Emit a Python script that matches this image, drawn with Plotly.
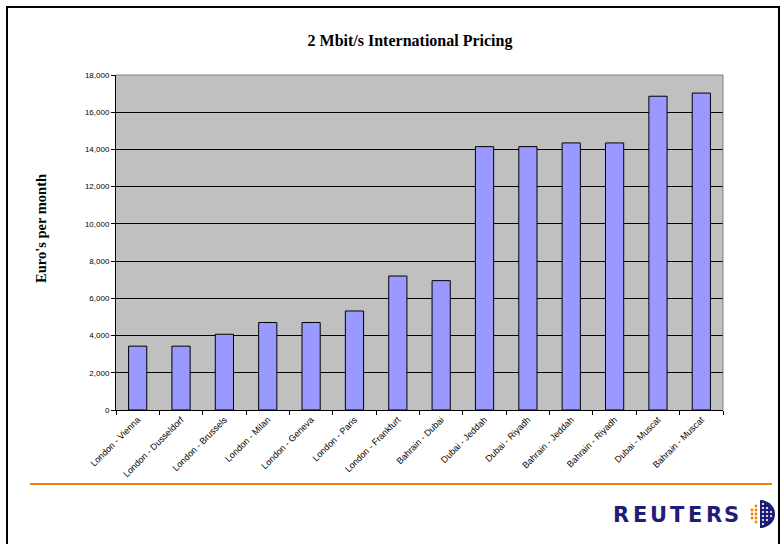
import math
import plotly.graph_objects as go

categories = ["London - Vienna", "London - Dusseldorf", "London - Brussels", "London - Milan",
              "London - Geneva", "London - Paris", "London - Frankfurt", "Bahrain - Dubai",
              "Dubai - Jeddah", "Dubai - Riyadh", "Bahrain - Jeddah", "Bahrain - Riyadh",
              "Dubai - Muscat", "Bahrain - Muscat"]
values = [3430, 3430, 4070, 4700, 4700, 5320, 7200, 6950,
          14150, 14150, 14350, 14350, 16860, 17030]
y_ticks = [0, 2000, 4000, 6000, 8000, 10000, 12000, 14000, 16000, 18000]

W, H = 781, 544
L, R, T, B = 116, 723, 75, 410
pw, ph = R - L, B - T

def px(x):
    return (x - L) / pw

def py(y):
    return (B - y) / ph

fig = go.Figure()
fig.add_trace(go.Bar(
    x=categories, y=values,
    marker=dict(color="#9999FF", line=dict(color="black", width=1)),
    showlegend=False,
))

fig.update_layout(
    width=W, height=H,
    margin=dict(l=L, r=W - R, t=T, b=H - B),
    paper_bgcolor="white",
    plot_bgcolor="#C0C0C0",
    bargap=0.58,
    font=dict(family="Liberation Sans, Arial", size=8, color="black"),
    title=dict(text="<b>2 Mbit/s International Pricing</b>",
               x=px(410), xanchor="center", xref="paper",
               y=1 - 40 / H, yanchor="middle",
               font=dict(family="Liberation Serif, Times New Roman", size=16, color="black")),
    xaxis=dict(tickangle=-45, tickfont=dict(size=9), ticks="outside", ticklen=4,
               tickson="boundaries", tickcolor="black", showline=True, linecolor="black",
               linewidth=1, showgrid=False, mirror=False),
    yaxis=dict(range=[0, 18000], tickvals=y_ticks, tickformat=",d",
               tickfont=dict(size=8), ticks="outside", ticklen=4, tickcolor="black",
               showline=True, linecolor="black", linewidth=1,
               showgrid=True, gridcolor="black", gridwidth=1, zeroline=False),
)

# y-axis title (placed like the original, slightly above plot-area centre)
fig.add_annotation(text="<b>Euro's per month</b>", xref="paper", yref="paper",
                   x=px(41), y=py(229), xanchor="center", yanchor="middle",
                   textangle=-90, showarrow=False,
                   font=dict(family="Liberation Serif, Times New Roman", size=14.5, color="black"))

shapes = []
# plot area border top/right (gray)
shapes.append(dict(type="line", xref="paper", yref="paper", x0=0, x1=1, y0=1, y1=1,
                   line=dict(color="#808080", width=1)))
shapes.append(dict(type="line", xref="paper", yref="paper", x0=1, x1=1, y0=0, y1=1,
                   line=dict(color="#808080", width=1)))
# outer frame
shapes.append(dict(type="rect", xref="paper", yref="paper",
                   x0=px(7), x1=px(779), y0=py(560), y1=py(7),
                   line=dict(color="black", width=2), fillcolor="rgba(0,0,0,0)", layer="above"))
# orange rule
shapes.append(dict(type="line", xref="paper", yref="paper",
                   x0=px(30), x1=px(772), y0=py(484), y1=py(484),
                   line=dict(color="#F08000", width=2)))

# Reuters globe icon: navy "D" shape
NAVY = "#1E1E78"
ORANGE = "#F08000"
cx, cy, rx, ry = 760, 514, 15, 14
pts = []
for k in range(0, 31):
    a = -math.pi / 2 + math.pi * k / 30
    pts.append((cx + rx * math.cos(a), cy + ry * math.sin(a)))
path = "M " + " L ".join("{:.5f},{:.5f}".format(px(x), py(y)) for x, y in pts) + " Z"
shapes.append(dict(type="path", xref="paper", yref="paper", path=path,
                   fillcolor=NAVY, line=dict(width=0)))

def dot(x, y, color, r=1.4):
    return dict(type="circle", xref="paper", yref="paper",
                x0=px(x - r), x1=px(x + r), y0=py(y + r), y1=py(y - r),
                fillcolor=color, line=dict(width=0))

# orange dots (left of the D)
for dy in [-8, -4, 0, 4, 8]:
    cols = [756] if abs(dy) == 8 else [752, 756]
    for x in cols:
        shapes.append(dot(x, cy + dy, ORANGE))
# white dots inside the D
for dy in [-10, -6, -2, 2, 6, 10]:
    for x in [763, 767, 771]:
        if (x - cx) ** 2 / rx ** 2 + dy ** 2 / ry ** 2 < 0.72:
            shapes.append(dot(x, cy + dy, "white", 1.1))
fig.update_layout(shapes=shapes)

# Reuters logo text, letter by letter to mimic the wide logotype
letters = list("REUTERS")
letter_x = [621, 639.5, 658, 677, 695, 713.5, 731]
for ch, lx in zip(letters, letter_x):
    fig.add_annotation(text="<b>" + ch + "</b>", xref="paper", yref="paper",
                       x=px(lx), y=py(515), xanchor="center", yanchor="middle",
                       showarrow=False,
                       font=dict(family="DejaVu Sans, Liberation Sans", size=21, color=NAVY))

fig.write_html("out.html")
